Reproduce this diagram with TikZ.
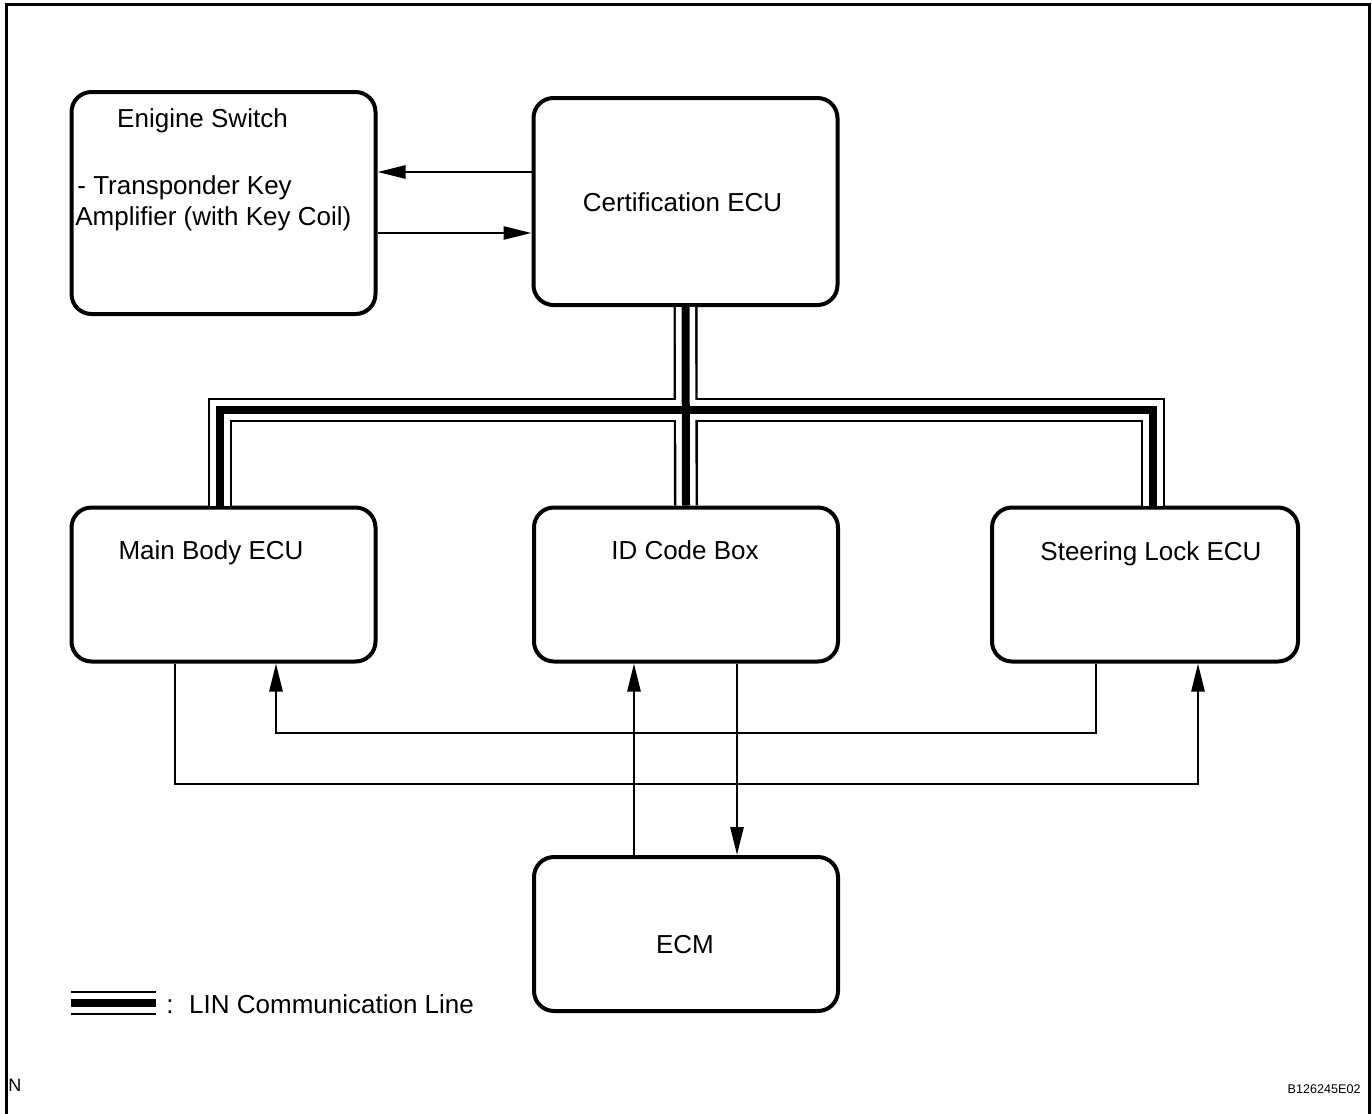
\documentclass[tikz,border=0pt]{standalone}
\usepackage{fontspec}
\setmainfont{Liberation Sans}
\usetikzlibrary{arrows.meta,positioning,calc}

\begin{document}
\begin{tikzpicture}[
    x=0.5pt, y=-0.5pt,
    font=\fontsize{13pt}{15.6pt}\selectfont,
    ecubox/.style={rectangle, rounded corners=10pt, draw, line width=2pt, minimum width=152pt, minimum height=#1, inner sep=0pt},
    ecubox/.default=77pt,
    lbl/.style={inner sep=0pt},
    conn/.style={line width=1.3pt},
    arrow/.style={conn, -{Triangle[length=14pt,width=6.5pt]}}
  ]
  \useasboundingbox (0,0) rectangle (1372,1114);
  \draw[line width=1.5pt] (6.5,1114) -- (6.5,4.7) -- (1369.5,4.7) -- (1369.5,1114);

  % boxes
  \node[ecubox=111pt] (eng) at (223.5,203) {};
  \node[ecubox=103.5pt] (cert) at (685.5,201.5) {};
  \node[ecubox] (mb) at (223.5,584.5) {};
  \node[ecubox] (idb) at (686,584.5) {};
  \node[ecubox, minimum width=153pt] (sl) at (1145,584.5) {};
  \node[ecubox] (ecm) at (686,934) {};

  % texts
  \node[lbl, anchor=base] (engtitle) at (202.5,127) {Enigine Switch};
  \node[lbl, anchor=base west] (engline1) at (77,194) {- Transponder Key};
  \node[lbl, anchor=base west] (engline2) at (75,225) {Amplifier (with Key Coil)};
  \node[lbl, anchor=base] (certtxt) at (682.5,211.5) {Certification ECU};
  \node[lbl, anchor=base] (mbtxt) at (211,559) {Main Body ECU};
  \node[lbl, anchor=base] (idbtxt) at (685,559) {ID Code Box};
  \node[lbl, anchor=base] (sltxt) at (1151,560) {Steering Lock ECU};
  \node[lbl, anchor=base] (ecmtxt) at (685,953) {ECM};

  % helper coordinates
  \coordinate (bus) at (686,410);
  \coordinate (dropL) at (220,0);
  \coordinate (dropR) at (1153,0);
  \coordinate (legA) at (71,1003);
  \coordinate (legB) at (156,1003);
  \coordinate (upY) at (0,172);
  \coordinate (dnY) at (0,233);
  \coordinate (mbL) at (175,0);
  \coordinate (mbR) at (276,0);
  \coordinate (slL) at (1096,0);
  \coordinate (slR) at (1198,0);
  \coordinate (idL) at (634,0);
  \coordinate (idR) at (737,0);
  \coordinate (lowA) at (0,733);
  \coordinate (lowB) at (0,784);

  % LIN lines
  \foreach \w/\c in {12pt/black, 9.6pt/white, 4pt/black} {
    \draw[line width=\w, \c] (mb.north -| dropL) |- (bus) -| (sl.north -| dropR);
    \draw[line width=\w, \c] (cert.south) -- (idb.north);
    \draw[line width=\w, \c] (legA) -- (legB);
  }
  \node[lbl, anchor=base west] (legtxt) at (166,1013) {:\hspace{0.6em}LIN Communication Line};

  % signal lines
  \draw[arrow] (cert.west |- upY) -- (eng.east |- upY);
  \draw[arrow] (eng.east |- dnY) -- (cert.west |- dnY);
  \draw[arrow] (mb.south -| mbL) |- (lowB -| slR) -- (sl.south -| slR);
  \draw[arrow] (sl.south -| slL) |- (lowA -| mbR) -- (mb.south -| mbR);
  \draw[arrow] (ecm.north -| idL) -- (idb.south -| idL);
  \draw[arrow] (idb.south -| idR) -- (ecm.north -| idR);

  \node[lbl, anchor=base west, font=\fontsize{9pt}{11pt}\selectfont] (ntxt) at (8,1091) {N};
  \node[lbl, anchor=base east, font=\fontsize{6.3pt}{7.5pt}\selectfont] (figid) at (1361,1093) {B126245E02};
\end{tikzpicture}
\end{document}
